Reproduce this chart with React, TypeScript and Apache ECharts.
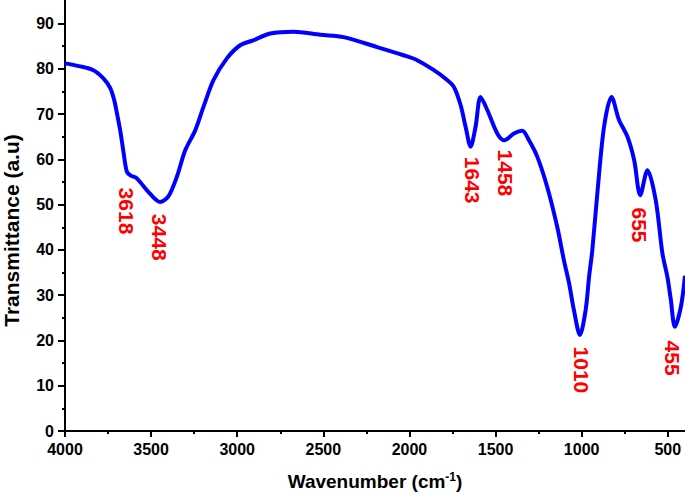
import React, { useEffect, useRef } from "react";
import * as echarts from "echarts";

const wavenumber = [
  4000, 3920, 3835, 3777, 3738, 3715, 3700, 3680, 3661, 3641, 3618, 3590, 3564, 3506, 3448,
  3400, 3351, 3302, 3244, 3196, 3138, 3060, 2983, 2907, 2808, 2673, 2517, 2382, 2188, 2035,
  1955, 1858, 1790, 1742, 1703, 1674, 1645, 1616, 1587, 1548, 1490, 1451, 1393, 1345, 1306,
  1258, 1200, 1142, 1103, 1073, 1045, 1010, 977, 957, 938, 909, 870, 827, 783, 734, 695, 660,
  618, 570, 531, 502, 482, 459, 424, 400,
];
const transmittance = [
  81.2, 80.6, 79.7, 77.9, 75.8, 73.2, 70.5, 66.5, 61.8, 57.3, 56.4, 56.0, 55, 52.4, 50.6,
  51.8, 56.1, 62, 66.4, 71.6, 77.5, 82.3, 85.2, 86.3, 87.8, 88.2, 87.5, 87, 84.8, 83,
  81.9, 79.7, 77.8, 76, 72, 67.2, 62.8, 67.2, 73.8, 70.9, 65.7, 64.2, 65.7, 66.3, 64.2,
  60.6, 53.9, 45.1, 37.7, 32.6, 26.7, 21.2, 26.7, 34, 40, 52.5, 67.2, 73.8, 68.7, 65, 59.8, 52.1,
  57.6, 51, 39.2, 34, 28.9, 23, 27.4, 34.3,
];

const xMajorTicks = [4000, 3500, 3000, 2500, 2000, 1500, 1000, 500];
const xMinorTicks = [3750, 3250, 2750, 2250, 1750, 1250, 750];
const yMajorTicks = [0, 10, 20, 30, 40, 50, 60, 70, 80, 90];
const yMinorTicks = [5, 15, 25, 35, 45, 55, 65, 75, 85];

const peakLabels = ["3618", "3448", "1643", "1458", "1010", "655", "455"];
const peakLabelX = [3645, 3453, 1634, 1442, 1000, 663, 470];
const peakLabelY = [48.6, 42.8, 55.4, 57.0, 13.5, 45.5, 16.1];

const FONT = "'Liberation Sans', Arial, Helvetica, sans-serif";

export default function App() {
  const ref = useRef<HTMLDivElement>(null);
  useEffect(() => {
    if (!ref.current) return;
    const chart = echarts.init(ref.current, undefined, { renderer: "svg" });
    const axisLineStyle = { color: "#000", width: 2 };
    chart.setOption({
      animation: false,
      backgroundColor: "#fff",
      grid: { left: 65, right: 0, top: 0, bottom: 65, containLabel: false, outerBoundsMode: "none" },
      xAxis: [
        {
          type: "value",
          inverse: true,
          min: 400,
          max: 4000,
          position: "bottom",
          axisLine: { show: true, onZero: false, lineStyle: axisLineStyle },
          axisTick: { show: true, customValues: xMajorTicks, length: 6, lineStyle: axisLineStyle },
          axisLabel: {
            customValues: xMajorTicks,
            formatter: (v: number) => String(v),
            fontSize: 16,
            fontWeight: "bold",
            color: "#000",
            fontFamily: FONT,
            margin: 10,
          },
          splitLine: { show: false },
          name: "Wavenumber (cm{sup|-1})",
          nameLocation: "middle",
          nameGap: 40,
          nameTextStyle: {
            fontSize: 19,
            fontWeight: "bold",
            color: "#000",
            fontFamily: FONT,
            rich: {
              sup: {
                fontSize: 12,
                fontWeight: "bold",
                color: "#000",
                fontFamily: FONT,
                verticalAlign: "bottom",
                padding: [0, 0, 9, 0],
              },
            },
          },
        },
        {
          type: "value",
          inverse: true,
          min: 400,
          max: 4000,
          position: "bottom",
          axisLine: { show: false, onZero: false },
          axisTick: { show: true, customValues: xMinorTicks, length: 3, lineStyle: axisLineStyle },
          axisLabel: { show: false },
          splitLine: { show: false },
        },
      ],
      yAxis: [
        {
          type: "value",
          min: 0,
          max: 95.2,
          position: "left",
          axisLine: { show: true, onZero: false, lineStyle: axisLineStyle },
          axisTick: { show: true, customValues: yMajorTicks, length: 7, lineStyle: axisLineStyle },
          axisLabel: {
            customValues: yMajorTicks,
            formatter: (v: number) => String(v),
            fontSize: 16,
            fontWeight: "bold",
            color: "#000",
            fontFamily: FONT,
            margin: 11,
          },
          splitLine: { show: false },
          name: "Transmittance (a.u)",
          nameLocation: "middle",
          nameGap: 43,
          nameTextStyle: {
            fontSize: 21,
            fontWeight: "bold",
            color: "#000",
            fontFamily: FONT,
            lineHeight: 21,
            padding: [0, 30, 0, 0],
          },
        },
        {
          type: "value",
          min: 0,
          max: 95.2,
          position: "left",
          axisLine: { show: false, onZero: false },
          axisTick: { show: true, customValues: yMinorTicks, length: 3, lineStyle: axisLineStyle },
          axisLabel: { show: false },
          splitLine: { show: false },
        },
      ],
      series: [
        {
          type: "line",
          xAxisIndex: 0,
          yAxisIndex: 0,
          data: wavenumber.map((w, i) => [w, transmittance[i]]),
          showSymbol: false,
          smooth: 0.3,
          lineStyle: { color: "#0000ff", width: 4 },
          itemStyle: { color: "#0000ff" },
        },
        {
          type: "scatter",
          xAxisIndex: 0,
          yAxisIndex: 0,
          symbolSize: 1,
          itemStyle: { color: "rgba(0,0,0,0)", opacity: 1 },
          data: peakLabels.map((name, i) => ({ name, value: [peakLabelX[i], peakLabelY[i]] })),
          label: {
            show: true,
            position: "inside",
            rotate: -90,
            formatter: "{b}",
            color: "#ff0000",
            opacity: 1,
            fontSize: 21,
            fontWeight: "bold",
            fontFamily: FONT,
          },
        },
      ],
    });
    return () => chart.dispose();
  }, []);
  return <div ref={ref} style={{ width: 685, height: 496, position: "absolute", left: 0, top: 0 }} />;
}
